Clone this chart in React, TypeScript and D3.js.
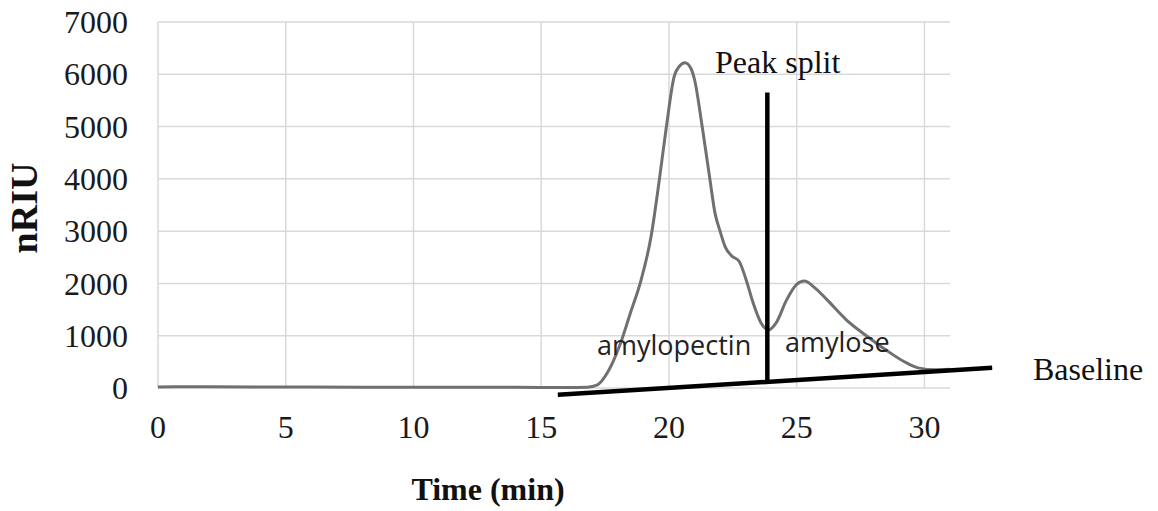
import React from "react";
import * as d3 from "d3";

const times = [0, 2, 4, 6, 8, 10, 12, 14, 15, 16, 16.8, 17.2, 17.6, 18.1, 18.5, 18.9, 19.3, 19.6, 19.9, 20.2, 20.4, 20.63, 20.85, 21.0, 21.3, 21.6, 21.8, 22.0, 22.2, 22.45, 22.75, 23.0, 23.3, 23.6, 23.9, 24.2, 24.6, 25.0, 25.3, 25.7, 26.2, 26.95, 27.7, 28.5, 29.3, 29.8, 30.4, 31.0];
const nriu = [20, 25, 20, 18, 15, 15, 15, 12, 10, 10, 15, 60, 300, 850, 1450, 2050, 2900, 3900, 5000, 5950, 6150, 6220, 6120, 5900, 5000, 4000, 3350, 3000, 2700, 2530, 2420, 2100, 1620, 1250, 1110, 1250, 1680, 1980, 2045, 1920, 1680, 1300, 1010, 725, 480, 380, 350, 360];

const xTicks = [0, 5, 10, 15, 20, 25, 30];
const yTicks = [0, 1000, 2000, 3000, 4000, 5000, 6000, 7000];

const baselineTimes = [15.65, 32.65];
const baselineValues = [-130, 385];

const splitTime = 23.85;
const splitTop = 5650;

const xTitle = "Time (min)";
const yTitle = "nRIU";

export default function App() {
  const W = 1158, H = 511;
  const x = d3.scaleLinear().domain([0, 31]).range([158, 950]);
  const y = d3.scaleLinear().domain([0, 7000]).range([388, 22]);

  const data = times.map((t, i) => [t, nriu[i]] as [number, number]);
  const line = d3.line<[number, number]>().x(d => x(d[0])).y(d => y(d[1])).curve(d3.curveMonotoneX);

  const baseAt = (t: number) =>
    baselineValues[0] + (t - baselineTimes[0]) / (baselineTimes[1] - baselineTimes[0]) * (baselineValues[1] - baselineValues[0]);

  const serif = "'Liberation Serif', 'Times New Roman', serif";
  const sans = "'Open Sans', sans-serif";

  return (
    <svg width={W} height={H} style={{ position: "absolute", left: 0, top: 0, background: "#fff" }}>
      <g>
        {yTicks.map(v => (
          <line key={"h" + v} x1={x(0)} x2={x(31)} y1={y(v)} y2={y(v)} stroke="#d9d9d9" strokeWidth={1.5} />
        ))}
        {xTicks.map(v => (
          <line key={"v" + v} x1={x(v)} x2={x(v)} y1={y(0)} y2={y(7000)} stroke="#d9d9d9" strokeWidth={1.5} />
        ))}
      </g>
      <g fontFamily={serif} fontSize={32} fill="#1a1a1a">
        {yTicks.map(v => (
          <text key={"yt" + v} x={128} y={y(v)} dy="0.35em" textAnchor="end">{v}</text>
        ))}
        {xTicks.map(v => (
          <text key={"xt" + v} x={x(v)} y={y(0) + 50} textAnchor="middle">{v}</text>
        ))}
      </g>
      <path d={line(data) || ""} fill="none" stroke="#707070" strokeWidth={3} />
      <line
        x1={x(baselineTimes[0])} y1={y(baselineValues[0])}
        x2={x(baselineTimes[1])} y2={y(baselineValues[1])}
        stroke="#000" strokeWidth={4.5}
      />
      <line x1={x(splitTime)} x2={x(splitTime)} y1={y(splitTop)} y2={y(baseAt(splitTime))} stroke="#000" strokeWidth={4.5} />
      <text x={715} y={73} fontFamily={serif} fontSize={32} fill="#111">Peak split</text>
      <text x={1033} y={380} fontFamily={serif} fontSize={32} fill="#111">Baseline</text>
      <text x={597} y={355} fontFamily={sans} fontSize={27} fill="#222">amylopectin</text>
      <text x={785} y={352} fontFamily={sans} fontSize={27} fill="#222">amylose</text>
      <text x={488} y={500} textAnchor="middle" fontFamily={serif} fontWeight="bold" fontSize={32} fill="#111">{xTitle}</text>
      <text transform="translate(37,208) rotate(-90)" textAnchor="middle" fontFamily={serif} fontWeight="bold" fontSize={38} fill="#111">{yTitle}</text>
    </svg>
  );
}
